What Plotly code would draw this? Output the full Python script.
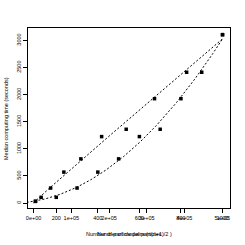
import numpy as np
import plotly.graph_objects as go

# Data
n_particles = [100, 200, 300, 400, 500, 600, 700, 800, 900, 1000]
median_time = [31, 105, 276, 570, 814, 1225, 1360, 1924, 2412, 3105]
n_pairs = [n * (n + 1) / 2 for n in n_particles]

n_ticks = [200, 400, 600, 800, 1000]
n_ticklabels = ["200", "400", "600", "800", "1000"]
pair_ticks = [0, 100000, 200000, 300000, 400000, 500000]
pair_ticklabels = ["0e+00", "1e+05", "2e+05", "3e+05", "4e+05", "5e+05"]
y_ticks = [0, 500, 1000, 1500, 2000, 2500, 3000]

x_title_1 = "Number of model particles"
x_title_2 = "Number of particle pairs (n(n+1)/2 )"
y_title = "Median computing time (seconds)"


def r_range(vals):
    lo, hi = min(vals), max(vals)
    r = hi - lo
    return [lo - 0.04 * r, hi + 0.04 * r]


# quadratic fit of time on n
coef = np.polyfit(n_particles, median_time, 2)
n_fit = np.linspace(0, max(n_particles), 300)
t_fit = np.polyval(coef, n_fit)
pairs_fit = n_fit * (n_fit + 1) / 2

FONT = "Liberation Sans, Arial, sans-serif"
fig = go.Figure()

line_style = dict(color="black", width=1, dash="2px,2px")
marker_style = dict(symbol="square", size=3.5, color="black", line=dict(width=0))

fig.add_trace(go.Scatter(x=n_fit, y=t_fit, mode="lines", line=line_style,
                         xaxis="x", yaxis="y", hoverinfo="skip"))
fig.add_trace(go.Scatter(x=n_particles, y=median_time, mode="markers",
                         marker=marker_style, xaxis="x", yaxis="y"))
fig.add_trace(go.Scatter(x=pairs_fit, y=t_fit, mode="lines", line=line_style,
                         xaxis="x2", yaxis="y", hoverinfo="skip"))
fig.add_trace(go.Scatter(x=n_pairs, y=median_time, mode="markers",
                         marker=marker_style, xaxis="x2", yaxis="y"))

axis_common = dict(showgrid=False, zeroline=False, ticks="outside", ticklen=4,
                   tickwidth=1, tickcolor="black", automargin=False,
                   tickfont=dict(family=FONT, size=5.5, color="black"))

title_font = dict(family=FONT, size=5.5, color="black")

fig.update_layout(
    width=245, height=245,
    margin=dict(l=28, r=15, t=28, b=37),
    paper_bgcolor="white", plot_bgcolor="white",
    showlegend=False,
    xaxis=dict(range=r_range(n_particles), tickvals=n_ticks, ticktext=n_ticklabels,
               showline=True, mirror=True, linecolor="black", linewidth=1,
               **axis_common),
    xaxis2=dict(range=r_range(n_pairs), tickvals=pair_ticks, ticktext=pair_ticklabels,
                overlaying="x", side="bottom", anchor="y", showline=False,
                **axis_common),
    yaxis=dict(range=r_range(median_time), tickvals=y_ticks, tickangle=-90,
               showline=True, mirror=True, linecolor="black", linewidth=1,
               **axis_common),
    annotations=[
        dict(text=x_title_1, x=0.5, y=-0.144, xref="paper", yref="paper",
             xanchor="center", yanchor="middle", showarrow=False, font=title_font),
        dict(text=x_title_2, x=0.5, y=-0.144, xref="paper", yref="paper",
             xanchor="center", yanchor="middle", showarrow=False, font=title_font),
        dict(text=y_title, x=-0.109, y=0.5, xref="paper", yref="paper",
             xanchor="center", yanchor="middle", textangle=-90,
             showarrow=False, font=title_font),
    ],
)

fig.write_html("out.html", config={"displayModeBar": False},
               post_script="document.body.style.margin='0';")
